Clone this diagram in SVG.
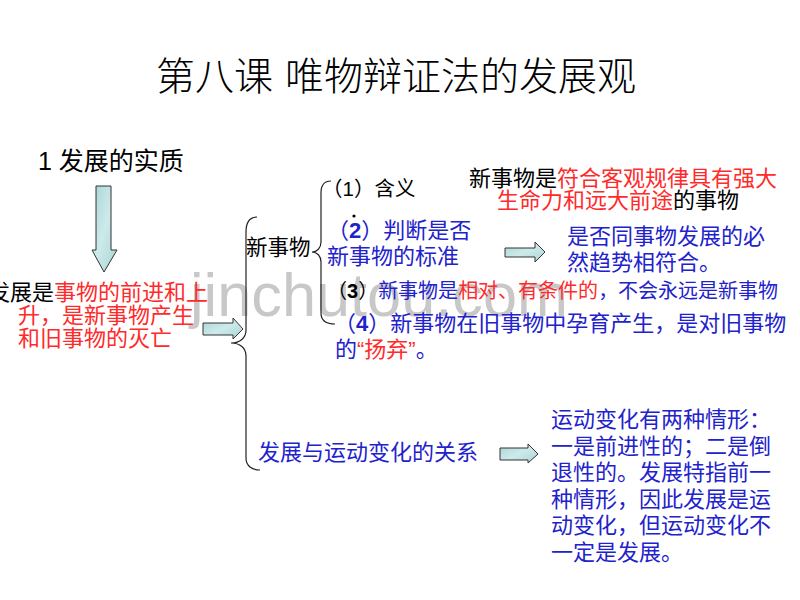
<svg xmlns="http://www.w3.org/2000/svg" width="800" height="600" viewBox="0 0 800 600">
<defs>
<style>
text{font-family:"Liberation Sans","Noto Sans CJK SC",sans-serif;}
.t{font-size:22px;}
.k{fill:#000;}
.r{fill:#ff2a2a;}
.b{fill:#2222cc;}
.bold{font-weight:bold;}
.brace{fill:none;stroke:#222;stroke-width:1.2;}
.arrow{fill:url(#ag);stroke:#333;stroke-width:1;}
.wm{font-family:"Liberation Sans",sans-serif;font-size:62px;fill:#c8c8c8;}
</style>
<linearGradient id="ag" x1="0" y1="0" x2="1" y2="1">
<stop offset="0" stop-color="#a8d4d4"/>
<stop offset="0.5" stop-color="#cdeaea"/>
<stop offset="1" stop-color="#a8d4d4"/>
</linearGradient>
</defs>
<rect width="800" height="600" fill="#fff"/>
<text class="wm" x="190" y="316" textLength="378" lengthAdjust="spacingAndGlyphs">jinchutou.com</text>

<g id="title"><text style="font-size:39px;font-weight:300" class="k" y="90"><tspan x="156">第八课</tspan><tspan x="285">唯物辩证法的发展观</tspan></text></g>

<g id="heading"><text style="font-size:25px" class="k" x="38" y="170">1 发展的实质</text></g>

<g id="essence">
<text class="t" x="-12" y="300"><tspan class="k">发展是</tspan><tspan class="r">事物的前进和上</tspan></text>
<text class="t r" x="18" y="323">升，是新事物产生</text>
<text class="t r" x="18" y="346">和旧事物的灭亡</text>
</g>

<g id="new-things"><text style="font-size:21.5px" class="k" x="246" y="255">新事物</text></g>

<g id="item1"><text style="font-size:20.5px" class="k" x="322" y="196">（1）含义</text></g>

<g id="definition">
<text class="t" x="469" y="186"><tspan class="k">新事物是</tspan><tspan class="r">符合客观规律具有强大</tspan></text>
<text class="t" x="497" y="208"><tspan class="r">生命力和远大前途</tspan><tspan class="k">的事物</tspan></text>
</g>

<g id="item2">
<text class="t b" x="327" y="238">（<tspan class="bold">2</tspan>）判断是否</text>
<circle cx="354" cy="216" r="1.6" fill="#000"/>
<text class="t b" x="327" y="264">新事物的标准</text>
</g>

<g id="criterion">
<text class="t b" x="567" y="244">是否同事物发展的必</text>
<text class="t b" x="567" y="270">然趋势相符合。</text>
</g>

<g id="item3"><text style="font-size:20px" x="327" y="298"><tspan class="k">（</tspan><tspan class="k bold">3</tspan><tspan class="k">）</tspan><tspan class="b">新事物是</tspan><tspan class="r">相对、有条件的</tspan><tspan class="b">，不会永远是新事物</tspan></text></g>

<g id="item4">
<text class="t b" x="334" y="331">（<tspan class="bold">4</tspan>）新事物在旧事物中孕育产生，是对旧事物</text>
<text class="t" x="335" y="357"><tspan class="b">的</tspan><tspan class="r">“扬弃”</tspan><tspan class="b">。</tspan></text>
</g>

<g id="relation"><text class="t b" x="258" y="460">发展与运动变化的关系</text></g>

<g id="relation-text" class="t b">
<text x="551" y="427">运动变化有两种情形：</text>
<text x="551" y="453.6">一是前进性的；二是倒</text>
<text x="551" y="480.2">退性的。发展特指前一</text>
<text x="551" y="506.8">种情形，因此发展是运</text>
<text x="551" y="533.4">动变化，但运动变化不</text>
<text x="551" y="560">一定是发展。</text>
</g>

<g id="connectors">
<polygon class="arrow" points="96,186 111,186 111,250 117,250 104,272 92,250 96,250"/>
<polygon class="arrow" points="203,323 233,323 233,318 243,329 233,339 233,335 203,335"/>
<polygon class="arrow" points="505,248 535,248 535,242 545,252 535,262 535,257 505,257"/>
<polygon class="arrow" points="500,448 528,448 528,444 538,454 528,463 528,460 500,460"/>
<path class="brace" d="M257,217 C250,217 246,222 246,232 L246,330 C246,338 240,343 231,343 C240,343 246,348 246,356 L246,458 C246,466 252,470 260,470"/>
<path class="brace" d="M331,181 C325,181 321,185 321,193 L321,242 C321,248 317,252 312,252 C317,252 321,256 321,262 L321,313 C321,320 326,324 335,324"/>
</g>
</svg>
